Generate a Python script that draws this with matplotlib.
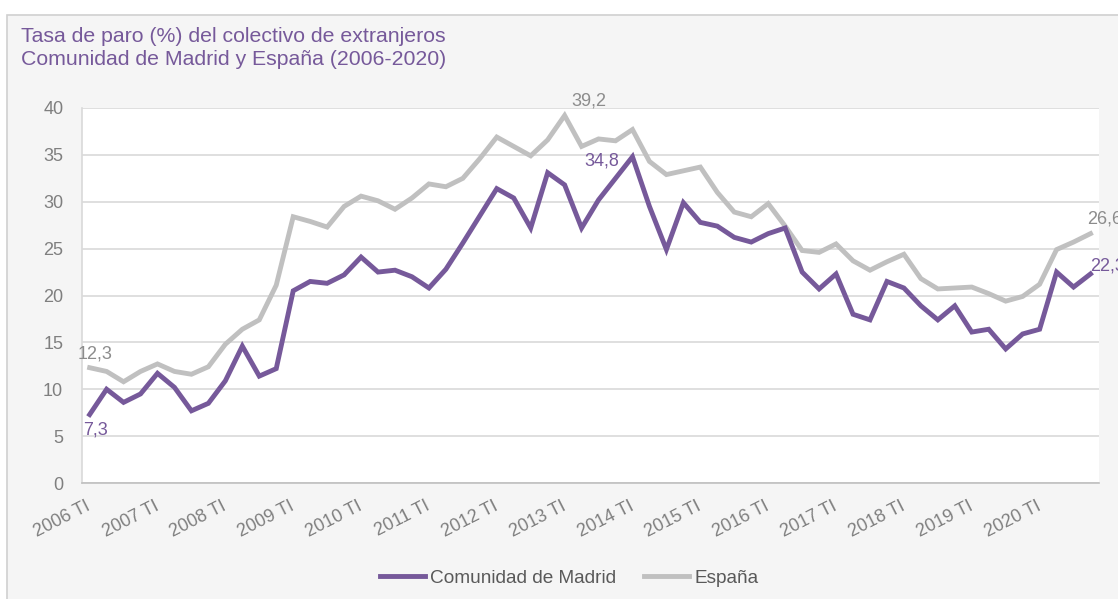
import matplotlib
matplotlib.use("Agg")
import matplotlib.pyplot as plt
from matplotlib.patches import Rectangle

plt.rcParams["font.family"] = ["Liberation Sans", "DejaVu Sans"]

years = list(range(2006, 2021))
quarters = ["TI", "TII", "TIII", "TIV"]
periodos = [f"{y} {q}" for y in years for q in quarters]

madrid = [7.3, 10.0, 8.6, 9.5, 11.7, 10.2, 7.7, 8.5, 10.9, 14.6, 11.4, 12.2,
          20.5, 21.5, 21.3, 22.2, 24.1, 22.5, 22.7, 22.0, 20.8, 22.8, 25.6, 28.5,
          31.4, 30.4, 27.2, 33.1, 31.8, 27.2, 30.2, 32.5, 34.8, 29.5, 24.9, 29.9,
          27.8, 27.4, 26.2, 25.7, 26.6, 27.2, 22.5, 20.7, 22.3, 18.0, 17.4, 21.5,
          20.8, 18.9, 17.4, 18.9, 16.1, 16.4, 14.3, 15.9, 16.4, 22.5, 20.9, 22.3]
espana = [12.3, 11.9, 10.8, 11.9, 12.7, 11.9, 11.6, 12.4, 14.8, 16.4, 17.4, 21.1,
          28.4, 27.9, 27.3, 29.5, 30.6, 30.1, 29.2, 30.4, 31.9, 31.6, 32.5, 34.6,
          36.9, 35.9, 34.9, 36.6, 39.2, 35.9, 36.7, 36.5, 37.7, 34.3, 32.9, 33.3,
          33.7, 31.0, 28.9, 28.4, 29.8, 27.4, 24.8, 24.6, 25.5, 23.7, 22.7, 23.6,
          24.4, 21.8, 20.7, 20.8, 20.9, 20.2, 19.4, 19.9, 21.2, 24.9, 25.7, 26.6]

purple = "#76599a"
gris = "#c0c0c0"
texto = "#7f7f7f"

fig = plt.figure(figsize=(11.18, 5.99), dpi=100, facecolor="white")
fig.patches.append(Rectangle((7 / 1118, -0.1), 1.2, (599 - 15) / 599 + 0.1,
                             transform=fig.transFigure, facecolor="#f5f5f5",
                             edgecolor="#d0d0d0", linewidth=1.2, zorder=-10))

ax = fig.add_axes([82 / 1118, (599 - 483) / 599, (1099 - 82) / 1118, 375 / 599])
ax.set_facecolor("white")

x = list(range(len(periodos)))
ax.plot(x, madrid, color=purple, lw=3.5, label="Comunidad de Madrid",
        solid_joinstyle="miter", zorder=3)
ax.plot(x, espana, color=gris, lw=3.5, label="España",
        solid_joinstyle="miter", zorder=2)

ax.set_ylim(0, 40)
ax.set_xlim(-0.45, 59.5)
ax.set_yticks(range(0, 45, 5))
ax.yaxis.grid(True, color="#d9d9d9", lw=1.2)
ax.set_axisbelow(True)
ax.set_xticks(x[::4])
ax.set_xticklabels(periodos[::4], rotation=27, ha="right", va="center",
                   rotation_mode="anchor")
ax.tick_params(axis="both", length=0, colors=texto, labelsize=13)
ax.tick_params(axis="y", pad=13.5)
ax.tick_params(axis="x", pad=16)
for s in ["top", "right"]:
    ax.spines[s].set_visible(False)
ax.spines["left"].set_color("#d9d9d9")
ax.spines["bottom"].set_color("#bfbfbf")
ax.spines["left"].set_linewidth(1.2)
ax.spines["bottom"].set_linewidth(1.2)

fmt = lambda v: f"{v:.1f}".replace(".", ",")
etiquetas = [
    (0, espana, "#8c8c8c", (5, 14), "center"),
    (0, madrid, purple, (6, -15), "center"),
    (28, espana, "#8c8c8c", (24, 14), "center"),
    (32, madrid, purple, (-31, -4), "center"),
    (59, espana, "#8c8c8c", (-3, 15), "left"),
    (59, madrid, purple, (0, 8), "left"),
]
for i, serie, col, off, ha in etiquetas:
    ax.annotate(fmt(serie[i]), (i, serie[i]), xytext=off,
                textcoords="offset pixels", ha=ha, va="center",
                fontsize=13, color=col, annotation_clip=False)

fig.text(21 / 1118, (599 - 42) / 599, "Tasa de paro (%) del colectivo de extranjeros",
         color=purple, fontsize=15.3, ha="left", va="baseline")
fig.text(21 / 1118, (599 - 65) / 599, "Comunidad de Madrid y España (2006-2020)",
         color=purple, fontsize=15.3, ha="left", va="baseline")

leg = fig.legend(loc="center", bbox_to_anchor=(0.509, (599 - 578) / 599),
                 ncol=2, frameon=False, fontsize=13.7, handlelength=2.37,
                 handletextpad=0.26, columnspacing=1.5)
for t in leg.get_texts():
    t.set_color("#595959")

fig.savefig("out.png", dpi=100, facecolor=fig.get_facecolor())
